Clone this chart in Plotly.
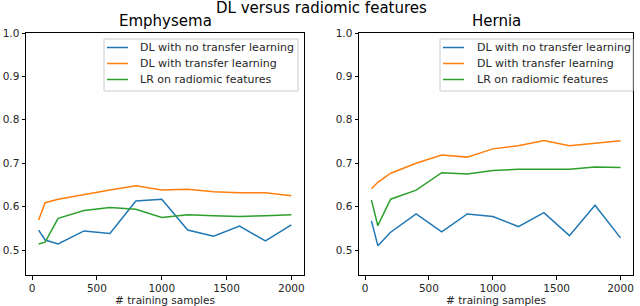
import plotly.graph_objects as go

samples = [50, 100, 200, 400, 600, 800, 1000, 1200, 1400, 1600, 1800, 2000]

emph_no_tl = [0.546, 0.523, 0.514, 0.544, 0.538, 0.613, 0.617, 0.546, 0.532, 0.555, 0.521, 0.558]
emph_tl = [0.569, 0.609, 0.617, 0.628, 0.638, 0.648, 0.638, 0.640, 0.634, 0.632, 0.632, 0.625]
emph_lr = [0.514, 0.518, 0.573, 0.591, 0.598, 0.594, 0.575, 0.581, 0.579, 0.577, 0.579, 0.581]

hern_no_tl = [0.567, 0.510, 0.541, 0.583, 0.542, 0.583, 0.577, 0.554, 0.586, 0.533, 0.603, 0.528]
hern_tl = [0.641, 0.656, 0.677, 0.700, 0.719, 0.714, 0.733, 0.740, 0.752, 0.740, 0.746, 0.752]
hern_lr = [0.615, 0.556, 0.617, 0.638, 0.678, 0.675, 0.683, 0.686, 0.686, 0.686, 0.691, 0.690]

series_names = ["DL with no transfer learning", "DL with transfer learning", "LR on radiomic features"]
colors = ["#1f77b4", "#ff7f0e", "#2ca02c"]
panel_titles = ["Emphysema", "Hernia"]
main_title = "DL versus radiomic features"
x_title = "# training samples"
x_ticks = [0, 500, 1000, 1500, 2000]
y_ticks = [0.5, 0.6, 0.7, 0.8, 0.9, 1.0]

W, H = 640, 306
FONT = "DejaVu Sans"


def px_x(p):
    return p / W


def px_y(p):
    return 1 - p / H


fig = go.Figure()
panels = [
    ([emph_no_tl, emph_tl, emph_lr], "x", "y"),
    ([hern_no_tl, hern_tl, hern_lr], "x2", "y2"),
]
for data, xa, ya in panels:
    for name, vals, c in zip(series_names, data, colors):
        fig.add_trace(go.Scatter(x=samples, y=vals, mode="lines", name=name,
                                 line=dict(color=c, width=1.5), xaxis=xa, yaxis=ya,
                                 showlegend=False))

axis_common = dict(showline=True, linecolor="black", linewidth=1, mirror=True,
                   ticks="outside", ticklen=3.5, tickcolor="black", showgrid=False,
                   zeroline=False, automargin=False,
                   tickfont=dict(family=FONT, size=10.5, color="#262626"))

xtitle = dict(text=x_title, font=dict(family=FONT, size=10.5, color="#262626"), standoff=2)

fig.update_layout(
    width=W, height=H,
    margin=dict(l=0, r=0, t=0, b=0),
    paper_bgcolor="white", plot_bgcolor="white",
    font=dict(family=FONT, color="black"),
    showlegend=False,
    xaxis=dict(domain=[px_x(26), px_x(304)], range=[-47.5, 2097.5],
               tickvals=x_ticks, anchor="y", title=xtitle, **axis_common),
    yaxis=dict(domain=[px_y(275), px_y(33)], range=[0.4424, 1.0],
               tickvals=y_ticks, tickformat=".1f", anchor="x", **axis_common),
    xaxis2=dict(domain=[px_x(359), px_x(633)], range=[-47.5, 2097.5],
                tickvals=x_ticks, anchor="y2", title=xtitle, **axis_common),
    yaxis2=dict(domain=[px_y(275), px_y(33)], range=[0.4424, 1.0],
                tickvals=y_ticks, tickformat=".1f", anchor="x2", **axis_common),
)

# Titles
title_font = dict(family=FONT, size=15, color="black")
fig.add_annotation(text=main_title, x=px_x(321), y=px_y(8), xref="paper", yref="paper",
                   xanchor="center", yanchor="middle", showarrow=False, font=title_font)
fig.add_annotation(text=panel_titles[0], x=px_x(165), y=px_y(21), xref="paper", yref="paper",
                   xanchor="center", yanchor="middle", showarrow=False, font=title_font)
fig.add_annotation(text=panel_titles[1], x=px_x(496), y=px_y(21), xref="paper", yref="paper",
                   xanchor="center", yanchor="middle", showarrow=False, font=title_font)

# Legends (matplotlib style boxes)
legend_boxes = [(104, 298, 107, 138), (440, 633, 443, 475)]
row_y = [47.5, 63.5, 79.5]
for (bx0, bx1, lx0, tx0) in legend_boxes:
    fig.add_shape(type="rect", xref="paper", yref="paper",
                  x0=px_x(bx0), x1=px_x(bx1), y0=px_y(91), y1=px_y(39),
                  line=dict(color="#cccccc", width=1), fillcolor="rgba(255,255,255,0.8)",
                  layer="above")
    for name, c, ry in zip(series_names, colors, row_y):
        fig.add_shape(type="line", xref="paper", yref="paper",
                      x0=px_x(lx0), x1=px_x(lx0 + 21), y0=px_y(ry), y1=px_y(ry),
                      line=dict(color=c, width=1.5), layer="above")
        fig.add_annotation(text=name, x=px_x(tx0), y=px_y(ry), xref="paper", yref="paper",
                           xanchor="left", yanchor="middle", showarrow=False,
                           font=dict(family=FONT, size=11, color="#262626"))

fig.write_html("out.html", config={"displayModeBar": False},
               post_script="document.body.style.margin='0';document.body.style.overflow='hidden';")
